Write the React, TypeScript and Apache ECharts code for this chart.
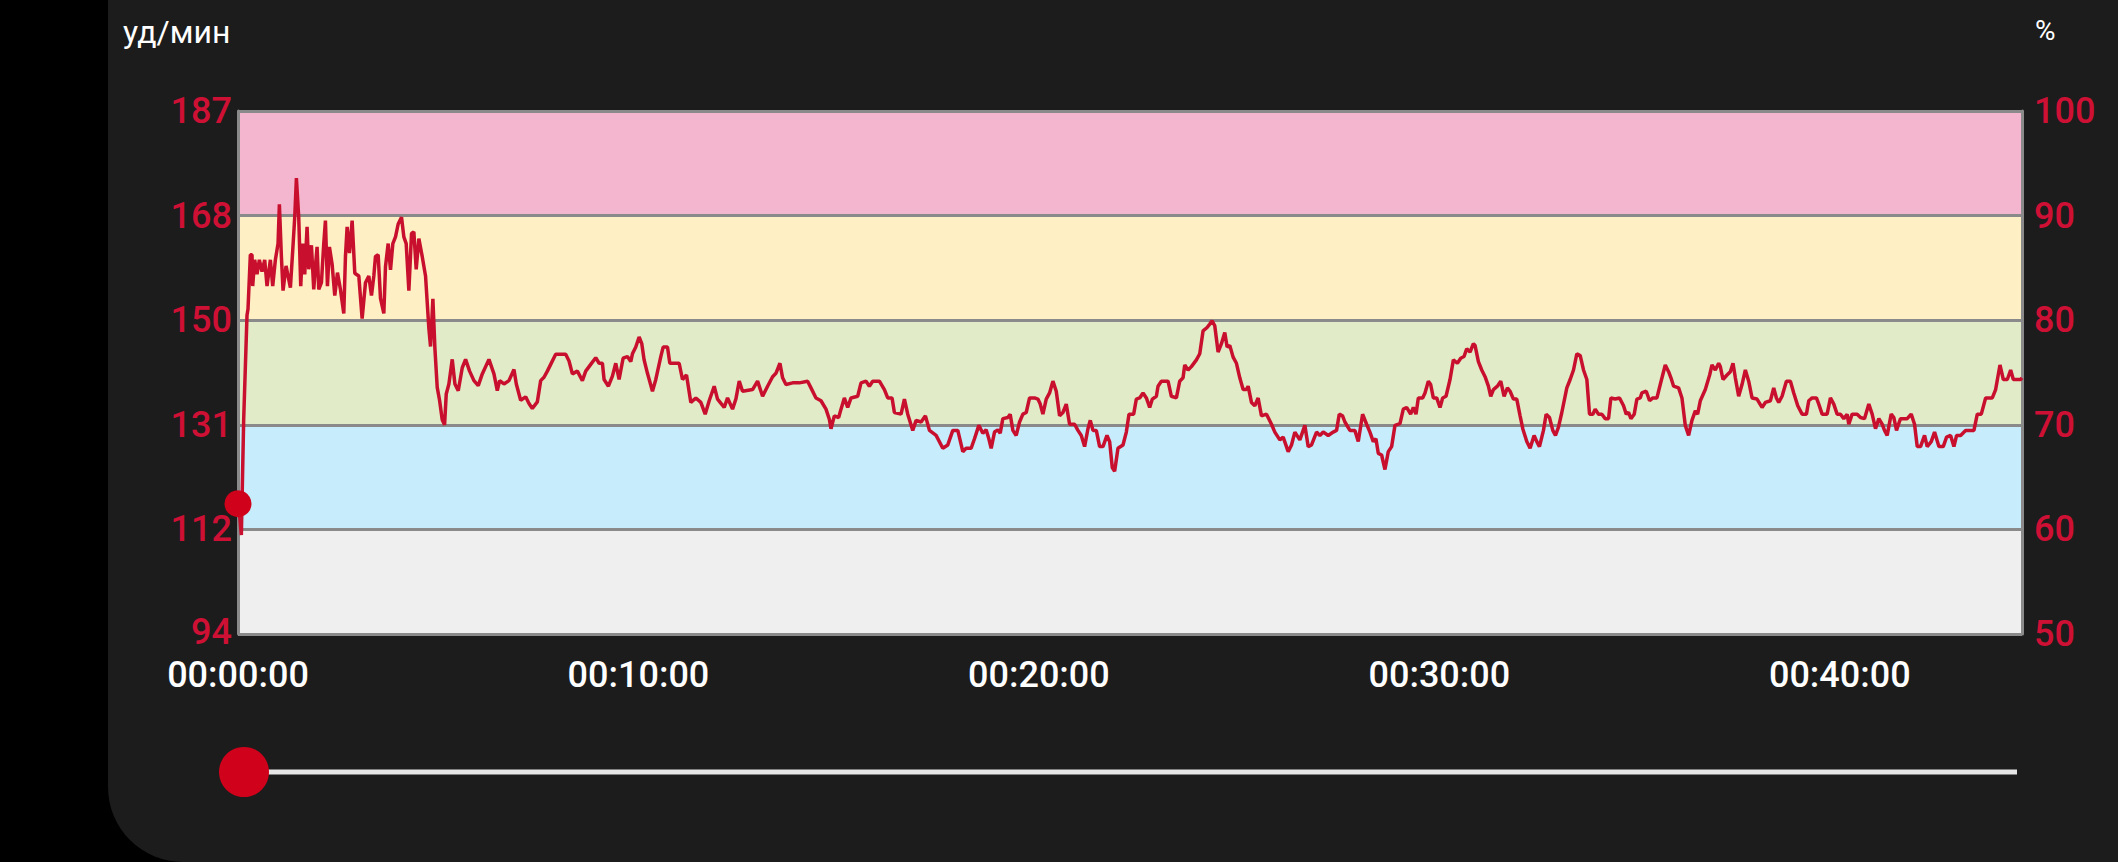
import React, { useEffect, useRef } from "react";
import * as echarts from "echarts";

// ---- data (seconds from start, beats per minute) ----
const timeSec: number[] = [
  0, 5, 8.5, 13.5, 15, 18.5, 21, 22, 25, 28.5, 32, 36, 40, 43.5, 48.5, 52, 56, 60, 62, 65, 67.5, 72, 75, 78.5, 82, 85, 87.5, 91, 94, 97, 100, 103.5, 106, 110, 113.5, 116, 118.5, 121, 125, 128.5, 131, 134, 137, 141, 145, 149, 153.5, 158.5, 161, 163.5, 167, 171, 175, 181, 186, 191, 196, 200, 203.5, 206, 210, 213.5, 218.5, 221, 225, 228.5, 232, 236, 240, 245, 248.5, 252, 256, 260, 263.5, 267, 271, 276, 281, 286, 288.5, 292, 295, 298.5, 302, 306, 309.5, 312, 316, 321, 325, 330, 336, 341, 347, 353.5, 360, 366, 376, 383.5, 388.5, 392, 398.5, 406, 413.5, 417, 423.5, 431, 436, 441, 448.5, 453.5, 458.5, 463.5, 468.5, 476, 491, 496, 501, 508.5, 516, 521, 528.5, 536,
  541, 546, 548.5, 555, 561, 566, 571, 577, 583.5, 588.5, 591, 596, 601, 605, 608.5, 613.5, 621, 626, 633.5, 637, 643.5, 647, 661, 666, 672, 678.5, 686, 693.5, 700, 706, 713.5, 718.5, 728.5, 733.5, 741, 746, 751, 756, 771, 778.5, 786, 793.5, 801, 806, 812, 816, 821, 831, 841, 853.5, 858.5, 866, 873.5, 881, 886, 888.5, 893.5, 900, 903.5, 908.5, 913.5, 918.5, 928.5, 933.5, 941, 946, 951, 961, 968.5, 973.5, 980, 983.5, 993.5, 998.5, 1003.5, 1011, 1016, 1023.5, 1030, 1036, 1046, 1056, 1063.5, 1071, 1078.5, 1086, 1091, 1098.5, 1103.5,
  1110, 1116, 1121, 1125, 1128.5, 1133.5, 1138.5, 1142, 1146, 1153.5, 1157, 1161, 1166, 1171, 1176, 1181, 1186, 1193.5, 1198.5, 1202, 1206, 1211, 1216, 1221, 1226, 1231, 1236, 1241, 1246, 1253.5, 1258.5, 1263.5, 1268.5, 1273.5, 1277, 1281, 1286, 1291, 1296, 1302, 1306, 1310, 1313.5, 1318.5, 1326, 1331, 1335, 1342, 1346, 1351, 1356, 1361, 1366, 1370, 1376, 1378.5, 1383.5, 1393.5, 1398.5, 1406, 1411, 1416, 1418.5, 1423.5, 1428.5, 1436, 1441, 1446, 1452, 1456, 1459.5, 1463.5, 1468.5, 1473.5, 1478.5, 1482, 1486, 1491, 1496, 1501, 1506, 1511, 1513.5, 1518.5, 1523.5, 1528.5, 1533.5, 1541, 1548.5, 1553.5, 1561, 1566, 1573.5, 1578.5, 1583.5, 1591, 1598.5, 1603.5, 1608.5, 1616, 1621, 1626, 1633.5, 1641, 1646, 1650, 1655, 1658.5,
  1666, 1673.5, 1678.5, 1685, 1691, 1696, 1701, 1705, 1708.5, 1713.5, 1718.5, 1723.5, 1728.5, 1733.5, 1741, 1746, 1751, 1757, 1761, 1765, 1768.5, 1775, 1778.5, 1783.5, 1787, 1791, 1796, 1801, 1805, 1810, 1816, 1821, 1827, 1832, 1837, 1841, 1846, 1851, 1853.5, 1858.5, 1863.5, 1868.5, 1873.5, 1877, 1881, 1887, 1892, 1897, 1902, 1906, 1911, 1916, 1921, 1925, 1931, 1936, 1942, 1946, 1950, 1956, 1960, 1965, 1970, 1974, 1978.5, 1983.5, 1991, 1996, 2001, 2006, 2011, 2016, 2021, 2025, 2030, 2033.5, 2038.5, 2043.5, 2048.5, 2053.5, 2057, 2063.5, 2070, 2076, 2080, 2083.5, 2087, 2092, 2096, 2101, 2103.5, 2110, 2115, 2120, 2126,
  2131, 2138.5, 2143.5, 2147, 2151, 2158.5, 2163.5, 2168.5, 2173.5, 2178.5, 2183.5, 2187, 2191, 2198.5, 2205, 2208.5, 2213.5, 2218.5, 2221, 2225, 2231, 2236, 2240, 2243.5, 2248.5, 2253.5, 2258.5, 2263.5, 2268.5, 2276, 2283.5, 2288.5, 2296, 2301, 2305, 2308.5, 2313.5, 2320, 2326, 2331, 2337, 2343.5, 2350, 2353.5, 2358.5, 2365, 2368.5, 2373.5, 2381, 2386, 2391, 2396, 2401, 2406, 2411, 2413.5, 2418.5, 2426, 2431, 2437, 2443.5, 2448.5, 2453.5, 2458.5, 2463.5, 2467, 2471, 2477, 2481, 2485, 2488, 2491, 2501, 2507, 2512, 2516, 2521, 2527, 2531, 2537, 2542, 2548.5, 2555, 2560, 2566, 2571, 2575, 2581, 2588.5, 2601, 2606, 2612, 2618.5, 2628.5, 2633.5, 2640, 2645, 2651, 2656, 2660, 2671, 2673,
];

const heartRate: number[] = [
  118, 111.2, 131.8, 150.5, 151.6, 161.3, 161.3, 155.7, 160.4, 157.8, 160.4, 158.3, 160.4, 155.7, 160.4, 155.7, 160.4, 163.3, 170.3, 161, 154.9, 159.3, 157.5, 155.4, 162.1, 168, 175, 168, 155.7, 163.3, 157.8, 166.3, 158.7, 163, 155.1, 159.2, 162.7, 155.1, 156.3, 163.3, 167.4, 155.7, 162.7, 159.6, 154, 158.1, 155.1, 150.8, 161, 166.3, 161.6, 167.4, 158, 157.5, 149.9, 156.3, 157.5, 154, 157.5, 161, 161.3, 153.5, 150.8, 159.2, 163.3, 158.6, 163.3, 164.5, 166.8, 168, 164.5, 163.3, 154.9, 165.1, 165.4, 158.7, 164.2, 161, 157.5, 148.1, 144.9, 153.4, 144.6, 137.6, 135.3, 131.8, 130.9, 136.4, 138.2, 142.6, 138.2, 137, 141.1, 142.6, 140.5, 138.8, 137.9, 140, 142.6, 140, 137, 138.8, 138.2, 138.8, 140.8, 138.2, 135.3, 135.9, 134.7, 133.8, 135, 138.8, 139.4, 140.5, 141.7, 143.5, 143.5, 142.3, 140, 140.5, 138.8, 140.5, 141.7, 142.9,
  141.9, 141.9, 139, 137.8, 139.6, 141.9, 139, 142.8, 143.1, 142.2, 143.6, 144.8, 146.6, 145.4, 142.5, 140.1, 136.9, 139, 143.1, 144.8, 144.8, 141.9, 141.9, 139, 139.8, 134.9, 135.7, 134.9, 132.8, 135.2, 137.8, 135.5, 134, 135.7, 133.7, 135.5, 138.7, 136.9, 137.2, 138.7, 136, 137.8, 139.5, 140.1, 141.9, 139.3, 138.1, 138.4, 138.4, 138.7, 137.5, 135.7, 135.2, 133.7, 131.9, 130.2, 132.5, 132.2, 133.7, 135.7, 134, 135.7, 136, 138.4, 138.7, 137.8, 138.7, 138.7, 137.2, 135.7, 135.7, 133.1, 132.8, 135.5, 132.8, 129.9, 131.7, 131.4, 132.5, 129.9, 129, 126.7, 127.3, 129.9, 129.9, 126.1, 126.7, 126.7, 128.4,
  130.8, 129.4, 130, 128.4, 126.7, 129.6, 130, 129.4, 132, 132.2, 132.8, 129.9, 129, 131.4, 132.8, 133.1, 135.7, 135.7, 135.5, 134.6, 132.8, 135.5, 136.6, 138.7, 136.9, 132.5, 133.1, 134.6, 131, 131, 129.9, 129, 127, 130.2, 131.7, 129.9, 129.9, 127, 127, 129, 127.9, 123.2, 122.6, 126.7, 127.3, 129.6, 132.8, 132.8, 135.5, 135.7, 136.6, 135.7, 134, 135.5, 136, 137.8, 138.7, 138.7, 136, 135.7, 138.7, 139.3, 141.6, 140.7, 141.3, 142.5, 143.6, 147.7, 148.3, 148.9, 149.5, 148.6, 143.9, 145.4, 147.4, 144.8, 145.1, 143, 141.9, 139.3, 137.2, 137.2, 137.8, 134.9, 134.3, 135.7, 132.5, 132.8, 131, 129.6, 128.2, 128.7, 126.1, 127.3, 129.6, 128.2, 130.8, 127, 127.3, 129.6, 129, 129.6, 129, 129.6, 129.9, 132.8, 132.5, 131.4,
  129.9, 129.9, 127.9, 132.8, 131, 129.6, 127.9, 128.4, 125.8, 125.5, 122.9, 126.1, 127, 130.8, 131.1, 133.7, 134, 132.8, 134, 132.8, 135.7, 135.7, 136.6, 138.7, 138.1, 135.7, 135.7, 134, 135.7, 136, 139, 142.5, 141.9, 142.8, 143.1, 144.5, 143.9, 145.4, 145.1, 142.2, 140.7, 139.5, 137.8, 136, 137.2, 137.8, 138.7, 136, 137.5, 136.9, 135.5, 135.5, 132.5, 130.2, 127.9, 126.7, 129, 127.9, 127, 129.9, 132.8, 132.2, 129.9, 129, 130.5, 133.1, 137.5, 139, 140.7, 143.6, 143.3, 140.7, 139, 132.8, 132.8, 133.7, 132.8, 132.8, 132, 132, 135.7, 135.5, 135.7, 134.3, 132.8, 133.1, 132, 132.8, 135.5, 135.7, 136.6, 136.9, 135.2, 135.7, 135.7,
  138.1, 141.6, 140.4, 139.3, 137.8, 137.5, 135.7, 130.8, 129, 131.7, 133.4, 132.8, 135.2, 137.2, 139.8, 141.6, 140.7, 141.9, 141.3, 139, 139.8, 140.4, 141.9, 139.3, 136, 138.1, 140.7, 138.7, 135.7, 135.5, 134, 134.9, 135.2, 137.5, 135.7, 134.9, 136, 138.7, 138.7, 136.6, 134.3, 132.8, 132.8, 135.2, 135.7, 135.7, 134.6, 132.8, 132.8, 135.7, 134.6, 132.8, 132.8, 132, 132.8, 131, 132.8, 132.8, 132.2, 132, 134.6, 132.8, 130.2, 132, 131, 129.9, 129, 132.8, 132.2, 129.9, 131, 132, 132, 132.8, 131, 127, 127, 129, 127, 127.9, 129.6, 127, 127, 128.7, 129, 127, 129, 129, 129.9, 129.9, 132.8, 132.8, 135.7, 135.7, 137.2, 141.6, 139, 139, 140.7, 139, 139, 139.3,
];

// current cursor position (start of the workout)
const cursorPoint: [number, number] = [0, 116.8];

// axis definitions
const durationSec = 2673;
const timeTickSec = 600;
const maxHr = 187;
const percentMin = 50;
const percentMax = 100;
const percentStep = 10;
const zoneColors = ["#eeefee", "#c7ecfb", "#e2ebc8", "#feefc4", "#f4b6cf"];

const RED = "#cf1035";
const LINE_RED = "#c8102e";
const GREY = "#8a8a8a";

function fmtTime(v: number): string {
  const h = Math.floor(v / 3600);
  const m = Math.floor((v % 3600) / 60);
  const s = Math.floor(v % 60);
  const p = (n: number) => String(n).padStart(2, "0");
  return `${p(h)}:${p(m)}:${p(s)}`;
}

export default function App() {
  const ref = useRef<HTMLDivElement>(null);
  useEffect(() => {
    if (!ref.current) return;
    const chart = echarts.init(ref.current, null, { renderer: "svg" });
    const hrMin = (maxHr * percentMin) / 100;
    const hrStep = (maxHr * percentStep) / 100;
    const lineData = timeSec.map((t, i) => [t, heartRate[i]]);
    chart.setOption({
      animation: false,
      backgroundColor: "#000000",
      textStyle: { fontFamily: "Roboto" },
      grid: { left: 238, right: 96, top: 111, bottom: 228, containLabel: false },
      xAxis: {
        type: "value",
        min: 0,
        max: durationSec,
        interval: timeTickSec,
        axisLine: { show: false },
        axisTick: { show: false },
        splitLine: { show: false },
        axisLabel: {
          color: "#ffffff",
          fontSize: 36,
          fontWeight: 500,
          fontFamily: "Roboto",
          lineHeight: 32,
          margin: 25,
          formatter: (v: number) => (v % timeTickSec === 0 ? fmtTime(v) : ""),
        },
      },
      yAxis: [
        {
          type: "value",
          position: "left",
          min: hrMin,
          max: maxHr,
          interval: hrStep,
          axisLine: { show: true, lineStyle: { color: GREY, width: 3 } },
          axisTick: { show: false },
          splitLine: { show: true, lineStyle: { color: GREY, width: 3 } },
          splitArea: { show: true, areaStyle: { color: zoneColors } },
          axisLabel: {
            color: RED,
            fontSize: 36,
            fontWeight: 500,
            fontFamily: "Roboto",
            lineHeight: 30,
            margin: 6,
            formatter: (v: number) =>
              Math.abs(v - hrMin) < 0.01 ? `{low|${Math.round(v)}}` : String(Math.round(v)),
            rich: {
              low: {
                color: RED,
                fontSize: 36,
                fontWeight: 500,
                fontFamily: "Roboto",
                lineHeight: 30,
                padding: [0, 0, 4, 0],
              },
            },
          },
        },
        {
          type: "value",
          position: "right",
          min: percentMin,
          max: percentMax,
          interval: percentStep,
          axisLine: { show: true, lineStyle: { color: GREY, width: 3 } },
          axisTick: { show: false },
          splitLine: { show: false },
          axisLabel: {
            color: RED,
            fontSize: 36,
            fontWeight: 500,
            fontFamily: "Roboto",
            lineHeight: 30,
            margin: 12,
          },
        },
      ],
      series: [
        {
          type: "line",
          yAxisIndex: 0,
          data: lineData,
          showSymbol: false,
          symbol: "none",
          lineStyle: { color: LINE_RED, width: 3.5 },
          z: 3,
        },
        {
          type: "scatter",
          yAxisIndex: 0,
          data: [cursorPoint],
          symbolSize: 27,
          itemStyle: { color: "#d0021b", opacity: 1 },
          clip: false,
          z: 5,
        },
      ],
      graphic: [
        {
          type: "rect",
          z: -10,
          shape: { x: 108, y: 0, width: 2010, height: 862, r: [0, 0, 0, 75] },
          style: { fill: "#1c1c1c" },
          silent: true,
        },
        {
          type: "text",
          style: {
            text: "уд/мин",
            x: 123,
            y: 32,
            fill: "#ffffff",
            font: "32px Roboto",
            textVerticalAlign: "middle",
          },
        },
        {
          type: "text",
          style: {
            text: "%",
            x: 2035,
            y: 30,
            fill: "#ffffff",
            font: "28px Roboto",
            textVerticalAlign: "middle",
          },
        },
        {
          type: "line",
          shape: { x1: 244, y1: 772, x2: 2017, y2: 772 },
          style: { stroke: "#e6e6e6", lineWidth: 5 },
        },
        {
          type: "circle",
          shape: { cx: 244, cy: 772, r: 25 },
          style: { fill: "#d0021b" },
        },
      ],
    });
    return () => chart.dispose();
  }, []);
  return (
    <div
      ref={ref}
      style={{ position: "fixed", left: 0, top: 0, width: 2118, height: 862 }}
    />
  );
}
